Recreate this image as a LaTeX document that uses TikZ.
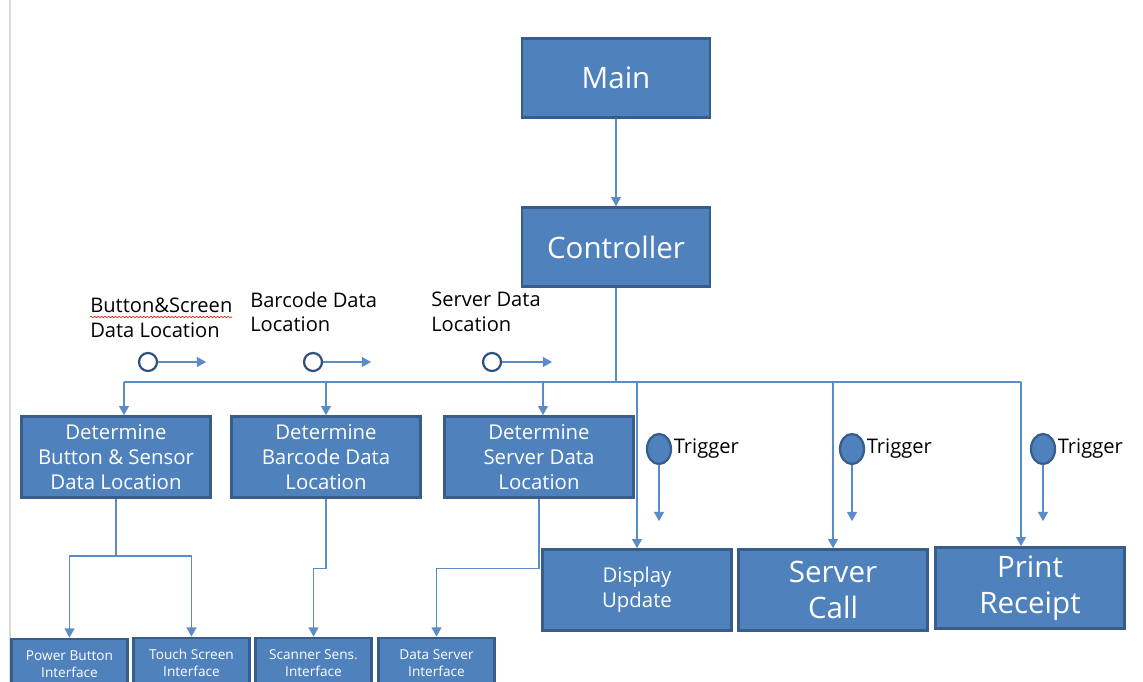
\documentclass[tikz,border=0pt]{standalone}
\usepackage{fontspec}
\setmainfont{Open Sans}
\usetikzlibrary{arrows.meta,shapes.geometric,decorations.pathmorphing}
\definecolor{boxblue}{HTML}{4F81BD}
\definecolor{boxedge}{HTML}{385D8A}
\definecolor{wireblue}{HTML}{5B8CC8}
\definecolor{ringblue}{HTML}{2F5080}

\begin{document}
\begin{tikzpicture}[x=0.025cm, y=-0.025cm,
		>={Triangle[width=7pt,length=6.5pt]},
		blk/.style={draw=boxedge, line width=2pt, fill=boxblue, text=white, align=center, inner sep=0pt},
		bigblk/.style={blk, minimum width=4.7cm, minimum height=1.97cm, font=\fontsize{21pt}{26pt}\selectfont},
		midblk/.style={blk, minimum width=4.72cm, minimum height=2.02cm, font=\fontsize{14.5pt}{17.7pt}\selectfont},
		ifblk/.style={blk, minimum width=2.9cm, minimum height=1.25cm, font=\fontsize{9.7pt}{11.8pt}\selectfont},
		wire/.style={draw=wireblue, line width=0.9pt},
		datadot/.style={circle, draw=ringblue, line width=1.6pt, fill=white, minimum size=0.45cm, inner sep=0pt},
		trigdot/.style={ellipse, draw=boxedge, line width=1.6pt, fill=boxblue, minimum width=0.6cm, minimum height=0.75cm, inner sep=0pt},
		lbl/.style={align=left, inner sep=0pt, font=\fontsize{14.3pt}{17.7pt}\selectfont}]
			\clip (0,0) rectangle (1143,682);
			\draw[black!15, line width=0.8pt] (10,0) -- (10,682);
			%   %   %   %   %   %   %   %   %   %   %
			%   Main and Controller
				\node[bigblk] (main) at (616,78) {Main};
				\node[bigblk] (ctrl) at (616,247) {Controller};
				\draw[wire, ->] (main) -- (ctrl);
			%   %   %   %   %   %   %   %   %   %   %
			%   Bus below the controller
				\coordinate (busL) at (124,382);
				\coordinate (busR) at (1021,382);
				\draw[wire] (ctrl.south) -- (ctrl.south |- busL);
				\draw[wire] (busL) -- (busR);
			%   %   %   %   %   %   %   %   %   %   %
			%   Determine blocks
				\node[midblk] (det1) at (116,457) {Determine\\Button \& Sensor\\Data Location};
				\node[midblk] (det2) at (326,457) {Determine\\Barcode Data\\Location};
				\node[midblk] (det3) at (539,457) {Determine\\Server Data\\Location};
				\draw[wire, ->] (busL) -- (busL |- det1.north);
				\draw[wire, ->] (det2.north |- busL) -- (det2.north);
				\draw[wire, ->] ([xshift=0.1cm]det3.north |- busL) -- ([xshift=0.1cm]det3.north);
			%   %   %   %   %   %   %   %   %   %   %
			%   Data locations
				\node[datadot] (loc1) at (148,362) {};
				\node[datadot] (loc2) at (313,362) {};
				\node[datadot] (loc3) at (492,362) {};
				\draw[wire, ->] (loc1.east) -- ++(48,0);
				\draw[wire, ->] (loc2.east) -- ++(48,0);
				\draw[wire, ->] (loc3.east) -- ++(50,0);
				\node[lbl, anchor=west] (lb1) at (90,318) {Button\&Screen\\Data Location};
				\node[lbl, anchor=west] (lb2) at (250,312) {Barcode Data\\Location};
				\node[lbl, anchor=west] (lb3) at (431,312) {Server Data\\Location};
				\draw[red, line width=0.4pt, decorate, decoration={snake, amplitude=0.5pt, segment length=2.5pt}] (90,317) -- (232,317);
			%   %   %   %   %   %   %   %   %   %   %
			%   Output blocks
				\node[midblk] (disp) at (637,590) {Display\\Update};
				\node[midblk, font=\fontsize{21pt}{26pt}\selectfont] (srv) at (833,590) {Server\\Call};
				\node[midblk, font=\fontsize{21pt}{26pt}\selectfont] (prt) at (1030,588) {Print\\Receipt};
				\draw[wire, ->] (disp.north |- busL) -- (disp.north);
				\draw[wire, ->] (srv.north |- busL) -- (srv.north);
				\draw[wire, ->] (busR) -- (busR |- prt.north);
			%   %   %   %   %   %   %   %   %   %   %
			%   Triggers
				\foreach \n/\x in {1/659, 2/852, 3/1043}{
					\node[trigdot] (trg\n) at (\x,449) {};
					\node[lbl, anchor=west, inner sep=1pt] (tl\n) at (trg\n.east) {Trigger};
					\draw[wire, ->] (trg\n.south) -- ++(0,56);
				}
			%   %   %   %   %   %   %   %   %   %   %
			%   Interfaces
				\node[ifblk] (pwr) at (69.5,664) {Power Button\\Interface};
				\node[ifblk] (tch) at (191.5,663) {Touch Screen\\Interface};
				\node[ifblk] (scn) at (313.5,663) {Scanner Sens.\\Interface};
				\node[ifblk] (dsv) at (436.5,663) {Data Server\\Interface};
				\coordinate (split1) at (116,556);
				\draw[wire] (det1.south) -- (split1);
				\draw[wire, ->] (split1) -| (pwr.north);
				\draw[wire, ->] (split1) -| (tch.north);
				\draw[wire, ->] (det2.south) -- ++(0,70) -| (scn.north);
				\draw[wire, ->] (det3.south) -- ++(0,70) -| (dsv.north);
\end{tikzpicture}
\end{document}
